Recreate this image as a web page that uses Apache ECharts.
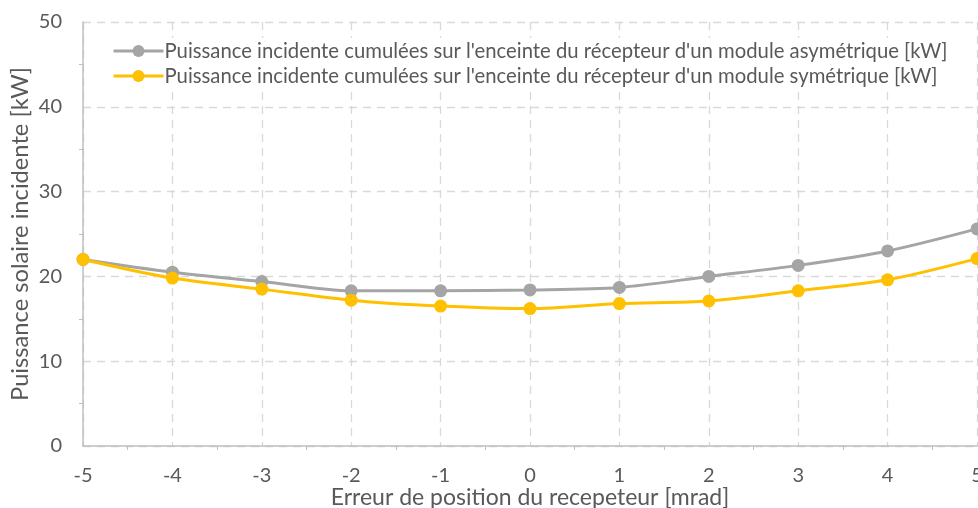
<!DOCTYPE html>
<html>
<head>
<meta charset="utf-8">
<script src="https://cdn.jsdelivr.net/npm/echarts@6/dist/echarts.min.js"></script>
<style>
  html, body { margin: 0; padding: 0; background: #fff; }
  #chart { width: 978px; height: 508px; }
</style>
</head>
<body>
<div id="chart"></div>
<script>
// Receiver position error [mrad]
const positionError = [-5, -4, -3, -2, -1, 0, 1, 2, 3, 4, 5];
// Cumulated incident power on the receiver enclosure [kW]
const asymmetricPower = [22.0, 20.5, 19.4, 18.3, 18.3, 18.4, 18.7, 20.0, 21.3, 23.0, 25.6];
const symmetricPower  = [22.0, 19.8, 18.5, 17.2, 16.5, 16.2, 16.8, 17.1, 18.3, 19.6, 22.1];

const nameAsym = "Puissance incidente cumulées sur l'enceinte du récepteur d'un module asymétrique [kW]";
const nameSym  = "Puissance incidente cumulées sur l'enceinte du récepteur d'un module symétrique [kW]";

const FONT = 'Lato';
const TEXT = '#595959';
const GRID = '#D9D9D9';
const AXIS = '#BFBFBF';

const pairs = (xs, ys) => xs.map((x, i) => [x, ys[i]]);

const chart = echarts.init(document.getElementById('chart'), null, { renderer: 'canvas' });
chart.setOption({
  animation: false,
  textStyle: { fontFamily: FONT, color: TEXT },
  grid: { left: 83, right: 1, top: 22, bottom: 62, containLabel: false, outerBoundsMode: 'none' },
  legend: {
    orient: 'vertical',
    left: 104,
    top: 38,
    itemGap: 5,
    itemWidth: 50,
    itemHeight: 15,
    padding: [3, 8, 3, 8],
    backgroundColor: '#fff',
    lineStyle: { width: 3 },
    textStyle: { fontFamily: FONT, fontSize: 20.3, color: TEXT, padding: [0, 0, 0, -4] },
    data: [nameAsym, nameSym]
  },
  xAxis: {
    type: 'value',
    min: -5, max: 5, interval: 1,
    name: 'Erreur de position du recepeteur [mrad]',
    nameLocation: 'middle',
    nameMoveOverlap: false,
    nameGap: 40,
    nameTextStyle: { fontFamily: FONT, fontSize: 23, color: TEXT },
    axisLine: { show: true, onZero: false, lineStyle: { color: AXIS, width: 1.5 } },
    axisTick: { show: false },
    minorTick: { show: true, splitNumber: 2, length: 4, lineStyle: { color: AXIS } },
    axisLabel: { fontFamily: FONT, fontSize: 20, color: TEXT, margin: 20 },
    splitLine: { show: true, lineStyle: { color: GRID, type: [8, 6], width: 1.3 } }
  },
  yAxis: {
    type: 'value',
    min: 0, max: 50, interval: 10,
    name: 'Puissance solaire incidente [kW]',
    nameLocation: 'middle',
    nameMoveOverlap: false,
    nameGap: 51,
    nameTextStyle: { fontFamily: FONT, fontSize: 23.7, color: TEXT },
    axisLine: { show: true, onZero: false, lineStyle: { color: AXIS, width: 1.5 } },
    axisTick: { show: false },
    minorTick: { show: true, splitNumber: 2, length: 4, lineStyle: { color: AXIS } },
    axisLabel: { fontFamily: FONT, fontSize: 20, color: TEXT, margin: 21 },
    splitLine: { show: true, lineStyle: { color: GRID, type: [8, 6], width: 1.3 } }
  },
  series: [
    {
      name: nameAsym,
      type: 'line',
      data: pairs(positionError, asymmetricPower),
      smooth: 0.3,
      symbol: 'circle',
      symbolSize: 13,
      lineStyle: { color: '#A5A5A5', width: 3 },
      itemStyle: { color: '#A5A5A5' },
      z: 2
    },
    {
      name: nameSym,
      type: 'line',
      data: pairs(positionError, symmetricPower),
      smooth: 0.3,
      symbol: 'circle',
      symbolSize: 13,
      lineStyle: { color: '#FFC000', width: 3 },
      itemStyle: { color: '#FFC000' },
      z: 3
    }
  ]
});
</script>
</body>
</html>
